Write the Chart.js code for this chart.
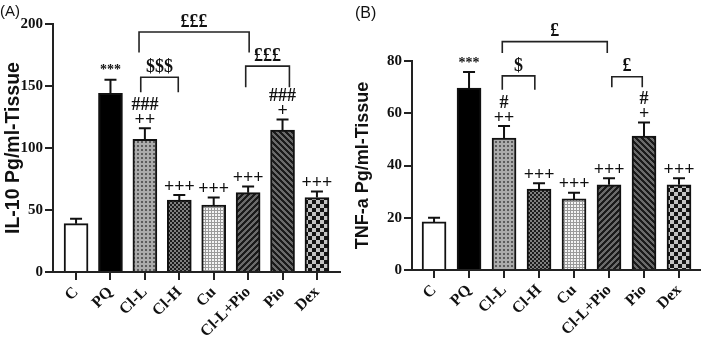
<!DOCTYPE html>
<html><head><meta charset="utf-8">
<script src="https://cdn.jsdelivr.net/npm/chart.js@4"></script>
<style>
body{margin:0;background:#fff;width:702px;height:350px;position:relative;overflow:hidden}
.lbl{position:absolute;font:15px "Liberation Sans",Arial,sans-serif;color:#111}
</style></head><body>
<div style="position:absolute;left:0;top:0;width:350px;height:350px"><canvas id="c1" width="350" height="350"></canvas></div>
<div style="position:absolute;left:350px;top:0;width:352px;height:350px"><canvas id="c2" width="352" height="350"></canvas></div>
<div class="lbl" style="left:0;top:2px">(A)</div>
<div class="lbl" style="left:355px;top:4px;font-size:16px">(B)</div>
<script>
const categories = ['C','PQ','Cl-L','Cl-H','Cu','Cl-L+Pio','Pio','Dex'];
const il10 = [39,144,107,58,54,64,114.5,60];
const il10Err = [4,11,9,4,6,5,8.5,5];
const tnf = [18.4,69.6,50.5,31,27.2,32.6,51.3,32.6];
const tnfErr = [1.6,6.2,4.6,2.2,2.4,2.5,5.2,2.5];
const il10Ticks = [0,50,100,150,200];
const tnfTicks = [0,20,40,60,80];
const il10Marks = [[],['***'],['###','++'],['+++'],['+++'],['+++'],['###','+'],['+++']];
const tnfMarks = [[],['***'],['#','++'],['+++'],['+++'],['+++'],['#','+'],['+++']];
// brackets: [fromIndex, toIndex, barValue, legEndValue, label]
const il10Brackets = [[1.83,5.03,193.5,177,'£££'],[1.88,2.97,157,145,'$$$'],[4.93,6.2,166,149,'£££']];
const tnfBrackets = [[1.95,4.95,87.4,83.1,'£'],[1.95,2.88,74.3,69,'$'],[5.08,5.95,74,70,'£']];

function pat(n, fn){
  const c=document.createElement('canvas');c.width=n;c.height=n;
  const g=c.getContext('2d');
  for(let y=0;y<n;y++)for(let x=0;x<n;x++){g.fillStyle=fn(x,y);g.fillRect(x,y,1,1);}
  return g.createPattern(c,'repeat');
}
const fills = [
  '#ffffff',
  '#000000',
  pat(4,(x,y)=>(x>=1&&x<3&&y>=1&&y<3)?'#5c5c5c':'#ababab'),
  pat(4,(x,y)=>(((x>>1)+(y>>1))%2===0)?'#808080':'#1c1c1c'),
  pat(6,(x,y)=>((Math.floor((x+y)/3)+Math.floor((x-y+30)/3))%2===0)?'#9a9a9a':'#f4f4f4'),
  pat(6,(x,y)=>(((x+y)%6)<3)?'#6a6a6a':'#1a1a1a'),
  pat(6,(x,y)=>(((x-y+60)%6)<3)?'#6a6a6a':'#1a1a1a'),
  pat(8,(x,y)=>(((x>>2)+(y>>2))%2===0)?'#151515':'#c4c4c4')
];

const serifBold = {family:'"Liberation Serif","Times New Roman",serif', weight:'bold'};

function annot(errs, marks, brackets){
  return {
    id:'annot',
    afterDatasetsDraw(chart){
      const ctx=chart.ctx, ys=chart.scales.y, xs=chart.scales.x;
      const meta=chart.getDatasetMeta(0);
      const vals=chart.data.datasets[0].data;
      ctx.save();
      ctx.strokeStyle='#111';ctx.lineWidth=2;
      meta.data.forEach((bar,i)=>{
        const v=vals[i].y, top=ys.getPixelForValue(v), et=ys.getPixelForValue(v+errs[i]);
        ctx.beginPath();ctx.moveTo(bar.x,top);ctx.lineTo(bar.x,et);
        ctx.moveTo(bar.x-6,et);ctx.lineTo(bar.x+6,et);ctx.stroke();
        const m=marks[i];
        ctx.fillStyle='#111';ctx.textAlign='center';ctx.textBaseline='middle';
        for(let k=m.length-1,j=0;k>=0;k--,j++){
          const t=m[k];
          if(t==='***'){ctx.font='bold 14px "Liberation Serif",serif';ctx.fillText(t,bar.x,et-9-j*14);}
          else if(t[0]==='#'){ctx.font='bold 18px "Liberation Serif",serif';ctx.fillText(t,bar.x,et-9-j*14);}
          else {ctx.font='bold 18px "Liberation Serif",serif';ctx.fillText(t,bar.x,et-8-j*14);}
        }
      });
      ctx.lineWidth=1.6;ctx.strokeStyle='#222';
      brackets.forEach(b=>{
        const x1=xs.getPixelForValue(b[0]),x2=xs.getPixelForValue(b[1]);
        const yb=ys.getPixelForValue(b[2]),yl=ys.getPixelForValue(b[3]);
        ctx.beginPath();ctx.moveTo(x1,yl);ctx.lineTo(x1,yb);ctx.lineTo(x2,yb);ctx.lineTo(x2,yl);ctx.stroke();
        ctx.font='bold 18px "Liberation Serif",serif';ctx.textAlign='center';ctx.textBaseline='middle';
        ctx.fillText(b[4],(x1+x2)/2,yb-10);
      });
      ctx.restore();
    }
  };
}

function make(id, vals, errs, marks, brackets, ticks, title, pad, xmin, xmax, yw, tsize){
  return new Chart(document.getElementById(id),{
    type:'bar',
    data:{datasets:[{
      data:categories.map((c,i)=>({x:i,y:vals[i]})),
      backgroundColor:fills,
      borderColor:'#111',borderWidth:2,borderSkipped:'bottom',
      barThickness:24
    }]},
    options:{
      responsive:false,animation:false,devicePixelRatio:1,
      layout:{padding:pad},
      plugins:{legend:{display:false},tooltip:{enabled:false}},
      scales:{
        x:{type:'linear',min:xmin,max:xmax,offset:false,
          afterBuildTicks:s=>{s.ticks=categories.map((c,i)=>({value:i}));},
          afterFit:s=>{s.height=pad.xh;s.paddingLeft=0;s.paddingRight=0;},
          ticks:{callback:v=>categories[v],autoSkip:false,minRotation:45,maxRotation:45,color:'#111',
            font:{...serifBold,size:16},padding:3},
          grid:{offset:false,drawOnChartArea:false,tickLength:8,color:'#222',lineWidth:2},
          border:{color:'#222',width:2}
        },
        y:{min:ticks[0],max:ticks[ticks.length-1],
          afterBuildTicks:s=>{s.ticks=ticks.map(v=>({value:v}));},
          afterFit:s=>{s.width=yw;s.paddingTop=0;s.paddingBottom=0;},
          ticks:{color:'#111',font:{...serifBold,size:15},padding:2},
          grid:{drawOnChartArea:false,tickLength:8,color:'#222',lineWidth:2},
          border:{color:'#222',width:2},
          title:{display:true,text:title,color:'#111',font:{family:'"Liberation Sans",Arial,sans-serif',weight:'bold',size:tsize},padding:{top:2,bottom:2}}
        }
      }
    },
    plugins:[annot(errs,marks,brackets)]
  });
}
make('c1',il10,il10Err,il10Marks,il10Brackets,il10Ticks,'IL-10 Pg/ml-Tissue',{left:0,top:24,right:10,bottom:0,xh:78},-0.67,7.67,53,19.5);
make('c2',tnf,tnfErr,tnfMarks,tnfBrackets,tnfTicks,'TNF-a Pg/ml-Tissue',{left:0,top:61,right:2,bottom:0,xh:80},-0.63,7.6,62,18);
</script>
</body></html>
